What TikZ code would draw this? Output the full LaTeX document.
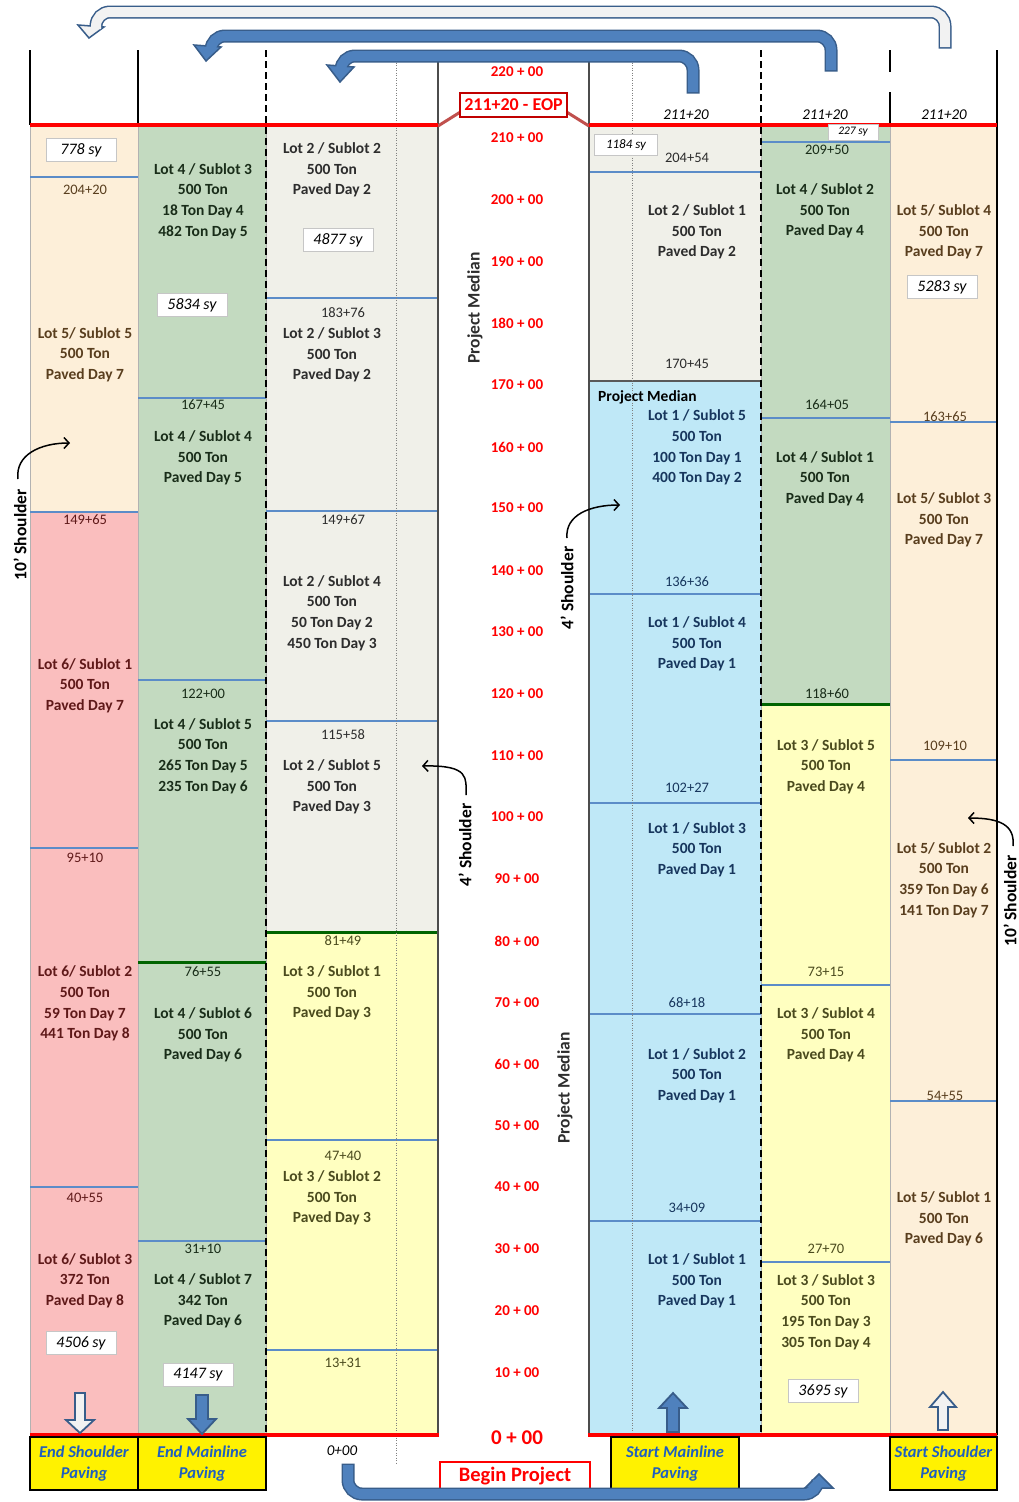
\documentclass[tikz,border=0pt]{standalone}
\usepackage{fontspec}
\setmainfont{Carlito}
\usetikzlibrary{arrows.meta}
\definecolor{creamc}{RGB}{253,239,217}
\definecolor{pinkc}{RGB}{250,190,190}
\definecolor{greenc}{RGB}{195,218,192}
\definecolor{grayc}{RGB}{240,240,233}
\definecolor{yellowc}{RGB}{255,255,192}
\definecolor{bluec}{RGB}{191,232,247}
\definecolor{sepblue}{RGB}{91,140,200}
\definecolor{dkgreen}{RGB}{0,100,0}
\definecolor{arrowblue}{RGB}{79,129,189}
\definecolor{arrowedge}{RGB}{56,93,138}
\definecolor{lightarrow}{RGB}{242,242,242}
\definecolor{tCream}{RGB}{89,62,30}
\definecolor{tPink}{RGB}{95,25,25}
\definecolor{tGreen}{RGB}{25,45,25}
\definecolor{tGray}{RGB}{45,45,45}
\definecolor{tYellow}{RGB}{75,75,30}
\definecolor{tBlue}{RGB}{23,54,93}
\definecolor{btext}{RGB}{31,95,191}
\definecolor{eopred}{RGB}{192,0,0}
\definecolor{calloutc}{RGB}{192,80,77}
\definecolor{redc}{RGB}{255,0,0}
\begin{document}
\begin{tikzpicture}[x=1pt,y=-1pt,
 lot/.style={align=center, inner sep=0pt, font=\bfseries\fontsize{15.5}{20.7}\selectfont},
 sta/.style={inner sep=0pt, font=\fontsize{14.5}{16}\selectfont},
 rsta/.style={inner sep=0pt, text=redc, font=\bfseries\fontsize{15}{17}\selectfont},
 sybox/.style={draw=gray!45, fill=white, line width=0.8pt, inner sep=0pt, minimum width=70pt, minimum height=23pt, font=\itshape\fontsize{16}{18}\selectfont},
 toplab/.style={inner sep=0pt, font=\itshape\fontsize{15}{17}\selectfont},
 sepl/.style={sepblue, line width=1.5pt},
 dksep/.style={dkgreen, line width=3pt},
 colbox/.style={draw=gray!60, line width=1pt},
 ybox/.style={draw=black, line width=2pt, fill=yellow, align=center, inner sep=0pt, text=btext, minimum height=53pt, font=\bfseries\itshape\fontsize{16.5}{21}\selectfont},
 rot/.style={rotate=90, inner sep=0pt, font=\bfseries\fontsize{17.5}{20}\selectfont},
 curv/.style={line width=1.5pt, -{Straight Barb[length=5pt,width=11pt]}},
 fatedge/.style={arrowedge, line width=13pt, rounded corners=14pt},
]
\useasboundingbox (0,0) rectangle (1018,1502);
\fill[white] (0,0) rectangle (1018,1502);

% ---------- column fills ----------
\filldraw[colbox, fill=creamc] (30,125) rectangle (138,512);
\filldraw[colbox, fill=pinkc] (30,512) rectangle (138,1435);
\filldraw[colbox, fill=greenc] (138,125) rectangle (266,1435);
\filldraw[colbox, fill=grayc] (266,125) rectangle (438,932);
\filldraw[colbox, fill=yellowc] (266,932) rectangle (438,1435);
\filldraw[colbox, fill=grayc] (589,125) rectangle (761,381);
\filldraw[colbox, fill=bluec] (589,381) rectangle (761,1435);
\filldraw[colbox, fill=greenc] (761,125) rectangle (890,704);
\filldraw[colbox, fill=yellowc] (761,704) rectangle (890,1435);
\filldraw[colbox, fill=creamc] (890,125) rectangle (997,1435);

% ---------- separators ----------
\draw[sepl] (30,177) -- (138,177);
\draw[sepl] (30,512) -- (138,512);
\draw[sepl] (30,848) -- (138,848);
\draw[sepl] (30,1187) -- (138,1187);
\draw[sepl] (138,398) -- (266,398);
\draw[sepl] (138,680) -- (266,680);
\draw[dksep] (138,962) -- (266,962);
\draw[sepl] (138,1241) -- (266,1241);
\draw[sepl] (266,298) -- (438,298);
\draw[sepl] (266,511) -- (438,511);
\draw[sepl] (266,721) -- (438,721);
\draw[dksep] (266,932) -- (438,932);
\draw[sepl] (266,1140) -- (438,1140);
\draw[sepl] (266,1350) -- (438,1350);
\draw[sepl] (589,172) -- (761,172);
\draw[gray!70!black, line width=2.5pt] (589,381) -- (761,381);
\draw[sepl] (589,594) -- (761,594);
\draw[sepl] (589,803) -- (761,803);
\draw[sepl] (589,1014) -- (761,1014);
\draw[sepl] (589,1221) -- (761,1221);
\draw[sepl] (761,142) -- (890,142);
\draw[sepl] (761,418) -- (890,418);
\draw[dksep] (761,704) -- (890,704);
\draw[sepl] (761,985) -- (890,985);
\draw[sepl] (761,1262) -- (890,1262);
\draw[sepl] (890,422) -- (997,422);
\draw[sepl] (890,760) -- (997,760);
\draw[sepl] (890,1101) -- (997,1101);

% ---------- vertical lines ----------
\draw[black, line width=1.5pt] (30,50) -- (30,125);
\draw[black, line width=1.5pt] (138,50) -- (138,125);
\draw[black, line width=1.5pt, dash pattern=on 7pt off 4pt] (266,50) -- (266,1435);
\draw[gray, line width=0.8pt, dash pattern=on 1pt off 1.5pt] (396,50) -- (396,1465);
\draw[gray!60!black, line width=2pt] (438,50) -- (438,1436);
\draw[gray!60!black, line width=2pt] (589,50) -- (589,1436);
\draw[gray, line width=0.8pt, dash pattern=on 1pt off 1.5pt] (632,50) -- (632,1435);
\draw[black, line width=1.5pt, dash pattern=on 7pt off 4pt] (761,50) -- (761,1435);
\draw[black, line width=1.5pt] (890,50) -- (890,72);
\draw[black, line width=1.5pt] (890,92) -- (890,125);
\draw[black, line width=1.5pt] (997,50) -- (997,1435);

% ---------- red lines ----------
\draw[calloutc, line width=3pt] (438,126) -- (462,111);
\draw[calloutc, line width=3pt] (565,111) -- (589,126);
\draw[redc, line width=4pt] (30,125) -- (438,125);
\draw[redc, line width=4pt] (589,125) -- (997,125);
\draw[redc, line width=3.5pt] (30,1435) -- (439,1435);
\draw[redc, line width=3.5pt] (588,1435) -- (997,1435);
\draw[dkgreen, line width=3pt] (145,1438) -- (266,1438);

\node[draw=eopred, line width=2.5pt, fill=white, text=redc, inner sep=0pt, minimum width=107pt, minimum height=24pt, font=\bfseries\fontsize{18}{20}\selectfont] (eop) at (513.5,105) {211+20 - EOP};
\node[draw=redc, line width=2.5pt, text=redc, inner sep=0pt, minimum width=150pt, minimum height=28pt, font=\bfseries\fontsize{20.5}{22}\selectfont] (begin) at (515,1476) {Begin Project};

% ---------- median stations ----------
\node[rsta] (s220) at (517,72) {220 + 00};
\node[rsta] (s210) at (517,138) {210 + 00};
\node[rsta] (s200) at (517,200) {200 + 00};
\node[rsta] (s190) at (517,262) {190 + 00};
\node[rsta] (s180) at (517,323) {180 + 00};
\node[rsta] (s170) at (517,385) {170 + 00};
\node[rsta] (s160) at (517,447) {160 + 00};
\node[rsta] (s150) at (517,508) {150 + 00};
\node[rsta] (s140) at (517,571) {140 + 00};
\node[rsta] (s130) at (517,632) {130 + 00};
\node[rsta] (s120) at (517,694) {120 + 00};
\node[rsta] (s110) at (517,756) {110 + 00};
\node[rsta] (s100) at (517,817) {100 + 00};
\node[rsta] (s90) at (517,879) {90 + 00};
\node[rsta] (s80) at (517,941) {80 + 00};
\node[rsta] (s70) at (517,1003) {70 + 00};
\node[rsta] (s60) at (517,1064) {60 + 00};
\node[rsta] (s50) at (517,1126) {50 + 00};
\node[rsta] (s40) at (517,1187) {40 + 00};
\node[rsta] (s30) at (517,1249) {30 + 00};
\node[rsta] (s20) at (517,1311) {20 + 00};
\node[rsta] (s10) at (517,1373) {10 + 00};
\node[rsta, font=\bfseries\fontsize{21}{24}\selectfont] (s0) at (517,1438) {0 + 00};

\node[rot, text=tGray] (pm1) at (475,308) {Project Median};
\node[rot, text=tGray] (pm2) at (565,1088) {Project Median};
\node[rot, text=black] (sh4a) at (465,845) {4' Shoulder};
\node[rot, text=black] (sh4b) at (567,588) {4' Shoulder};
\node[rot, text=black] (sh10a) at (20,535) {10' Shoulder};
\node[rot, text=black] (sh10b) at (1010,901) {10' Shoulder};

\coordinate (f10a) at (18,479);
\coordinate (t10a) at (70,443);
\coordinate (f4a) at (466,795);
\coordinate (t4a) at (422,766);
\coordinate (f4b) at (567,538);
\coordinate (t4b) at (620,505);
\coordinate (f10b) at (1013,846);
\coordinate (t10b) at (968,818);
\draw[curv] (f10a) .. controls (15,455) and (40,443) .. (t10a);
\draw[curv] (f4a) .. controls (466,778) and (470,765) .. (t4a);
\draw[curv] (f4b) .. controls (565,515) and (590,505) .. (t4b);
\draw[curv] (f10b) .. controls (1015,825) and (1000,818) .. (t10b);

% ---------- top labels ----------
\node[toplab] (a1) at (686,115) {211+20};
\node[toplab] (a2) at (825,115) {211+20};
\node[toplab] (a3) at (944,115) {211+20};
\node[toplab] (z0) at (342,1451) {0+00};

% ---------- column 1 ----------
\node[sybox] (sy1) at (81,150) {778 sy};
\node[sta, text=tCream] (c1a) at (85,190) {204+20};
\node[lot, text=tCream] (c1b) at (85,354.5) {Lot 5/ Sublot 5\\500 Ton\\Paved Day 7};
\node[sta, text=tPink] (c1c) at (85,520) {149+65};
\node[lot, text=tPink] (c1d) at (85,685.5) {Lot 6/ Sublot 1\\500 Ton\\Paved Day 7};
\node[sta, text=tPink] (c1e) at (85,858) {95+10};
\node[lot, text=tPink] (c1f) at (85,1003.5) {Lot 6/ Sublot 2\\500 Ton\\59 Ton Day 7\\441 Ton Day 8};
\node[sta, text=tPink] (c1g) at (85,1198) {40+55};
\node[lot, text=tPink] (c1h) at (85,1280.5) {Lot 6/ Sublot 3\\372 Ton\\Paved Day 8};
\node[sybox] (sy2) at (81,1343) {4506 sy};

% ---------- column 2 ----------
\node[lot, text=tGreen] (c2a) at (203,201) {Lot 4 / Sublot 3\\500 Ton\\18 Ton Day 4\\482 Ton Day 5};
\node[sybox] (sy3) at (192,305) {5834 sy};
\node[sta, text=tGreen] (c2b) at (203,405) {167+45};
\node[lot, text=tGreen] (c2c) at (203,458) {Lot 4 / Sublot 4\\500 Ton\\Paved Day 5};
\node[sta, text=tGreen] (c2d) at (203,694) {122+00};
\node[lot, text=tGreen] (c2e) at (203,756) {Lot 4 / Sublot 5\\500 Ton\\265 Ton Day 5\\235 Ton Day 6};
\node[sta, text=tGreen] (c2f) at (203,972) {76+55};
\node[lot, text=tGreen] (c2g) at (203,1035) {Lot 4 / Sublot 6\\500 Ton\\Paved Day 6};
\node[sta, text=tGreen] (c2h) at (203,1249) {31+10};
\node[lot, text=tGreen] (c2i) at (203,1301) {Lot 4 / Sublot 7\\342 Ton\\Paved Day 6};
\node[sybox] (sy4) at (198,1375) {4147 sy};

% ---------- column 3 ----------
\node[lot, text=tGray] (c3a) at (332,170) {Lot 2 / Sublot 2\\500 Ton\\Paved Day 2};
\node[sybox] (sy5) at (338,240) {4877 sy};
\node[sta, text=tGray] (c3b) at (343,313) {183+76};
\node[lot, text=tGray] (c3c) at (332,355) {Lot 2 / Sublot 3\\500 Ton\\Paved Day 2};
\node[sta, text=tGray] (c3d) at (343,520) {149+67};
\node[lot, text=tGray] (c3e) at (332,613) {Lot 2 / Sublot 4\\500 Ton\\50 Ton Day 2\\450 Ton Day 3};
\node[sta, text=tGray] (c3f) at (343,735) {115+58};
\node[lot, text=tGray] (c3g) at (332,787) {Lot 2 / Sublot 5\\500 Ton\\Paved Day 3};
\node[sta, text=tYellow] (c3h) at (343,941) {81+49};
\node[lot, text=tYellow] (c3i) at (332,993) {Lot 3 / Sublot 1\\500 Ton\\Paved Day 3};
\node[sta, text=tYellow] (c3j) at (343,1156) {47+40};
\node[lot, text=tYellow] (c3k) at (332,1198) {Lot 3 / Sublot 2\\500 Ton\\Paved Day 3};
\node[sta, text=tYellow] (c3l) at (343,1363) {13+31};

% ---------- column 5 ----------
\node[sybox, minimum width=63pt, minimum height=21pt, font=\itshape\fontsize{13}{15}\selectfont] (sy6) at (626,145) {1184 sy};
\node[sta, text=tGray] (c5a) at (687,158) {204+54};
\node[lot, text=tGray] (c5b) at (697,232) {Lot 2 / Sublot 1\\500 Ton\\Paved Day 2};
\node[sta, text=tGray] (c5c) at (687,364) {170+45};
\node[lot, anchor=west, text=black] (c5pm) at (598,397) {Project Median};
\node[lot, text=tBlue] (c5d) at (697,447.5) {Lot 1 / Sublot 5\\500 Ton\\100 Ton Day 1\\400 Ton Day 2};
\node[sta, text=tBlue] (c5e) at (687,582) {136+36};
\node[lot, text=tBlue] (c5f) at (697,644) {Lot 1 / Sublot 4\\500 Ton\\Paved Day 1};
\node[sta, text=tBlue] (c5g) at (687,788) {102+27};
\node[lot, text=tBlue] (c5h) at (697,849.5) {Lot 1 / Sublot 3\\500 Ton\\Paved Day 1};
\node[sta, text=tBlue] (c5i) at (687,1003) {68+18};
\node[lot, text=tBlue] (c5j) at (697,1075.5) {Lot 1 / Sublot 2\\500 Ton\\Paved Day 1};
\node[sta, text=tBlue] (c5k) at (687,1208) {34+09};
\node[lot, text=tBlue] (c5l) at (697,1281) {Lot 1 / Sublot 1\\500 Ton\\Paved Day 1};

% ---------- column 6 ----------
\node[sybox, minimum width=50pt, minimum height=16pt, font=\itshape\fontsize{11.5}{13}\selectfont] (sy7) at (853,132) {227 sy};
\node[sta, text=tGreen] (c6a) at (827,150) {209+50};
\node[lot, text=tGreen] (c6b) at (825,211) {Lot 4 / Sublot 2\\500 Ton\\Paved Day 4};
\node[sta, text=tGreen] (c6c) at (827,405) {164+05};
\node[lot, text=tGreen] (c6d) at (825,478.5) {Lot 4 / Sublot 1\\500 Ton\\Paved Day 4};
\node[sta, text=tGreen] (c6e) at (827,694) {118+60};
\node[lot, text=tYellow] (c6f) at (826,766.5) {Lot 3 / Sublot 5\\500 Ton\\Paved Day 4};
\node[sta, text=tYellow] (c6g) at (826,972) {73+15};
\node[lot, text=tYellow] (c6h) at (826,1035) {Lot 3 / Sublot 4\\500 Ton\\Paved Day 4};
\node[sta, text=tYellow] (c6i) at (826,1249) {27+70};
\node[lot, text=tYellow] (c6j) at (826,1312) {Lot 3 / Sublot 3\\500 Ton\\195 Ton Day 3\\305 Ton Day 4};
\node[sybox] (sy8) at (823,1391) {3695 sy};

% ---------- column 7 ----------
\node[lot, text=tCream] (c7a) at (944,232) {Lot 5/ Sublot 4\\500 Ton\\Paved Day 7};
\node[sybox] (sy9) at (942,287) {5283 sy};
\node[sta, text=tCream] (c7b) at (945,417) {163+65};
\node[lot, text=tCream] (c7c) at (944,520) {Lot 5/ Sublot 3\\500 Ton\\Paved Day 7};
\node[sta, text=tCream] (c7d) at (945,746) {109+10};
\node[lot, text=tCream] (c7e) at (944,880) {Lot 5/ Sublot 2\\500 Ton\\359 Ton Day 6\\141 Ton Day 7};
\node[sta, text=tCream] (c7f) at (945,1096) {54+55};
\node[lot, text=tCream] (c7g) at (944,1219) {Lot 5/ Sublot 1\\500 Ton\\Paved Day 6};

% ---------- bottom yellow boxes ----------
\node[ybox, minimum width=108pt] (b1) at (84,1463.5) {End Shoulder\\Paving};
\node[ybox, minimum width=128pt] (b2) at (202,1463.5) {End Mainline\\Paving};
\node[ybox, minimum width=128pt] (b3) at (675,1463.5) {Start Mainline\\Paving};
\node[ybox, minimum width=107pt] (b4) at (943.5,1463.5) {Start Shoulder\\Paving};

% ---------- small block arrows ----------
\filldraw[fill=lightarrow, draw=arrowedge, line width=1.8pt, line join=miter]
  (75,1393) -- (85,1393) -- (85,1420) -- (94,1420) -- (80,1433) -- (66,1420) -- (75,1420) -- cycle;
\filldraw[fill=arrowblue, draw=arrowedge, line width=1.8pt, line join=miter]
  (196,1395) -- (208,1395) -- (208,1419) -- (216,1419) -- (202,1434) -- (188,1419) -- (196,1419) -- cycle;
\filldraw[fill=arrowblue, draw=arrowedge, line width=1.8pt, line join=miter]
  (667,1432) -- (679,1432) -- (679,1408) -- (687,1408) -- (673,1393) -- (659,1408) -- (667,1408) -- cycle;
\filldraw[fill=lightarrow, draw=arrowedge, line width=1.8pt, line join=miter]
  (938,1430) -- (948,1430) -- (948,1407) -- (956,1407) -- (943,1392) -- (930,1407) -- (938,1407) -- cycle;

% ---------- big U-turn arrows ----------
\draw[fatedge] (945,48.5) -- (945,12) -- (96,12) -- (96,27);
\filldraw[fill=lightarrow, draw=arrowedge, line width=1.5pt, line join=miter] (78,25) -- (89,38) -- (104,27) -- cycle;
\draw[lightarrow, line width=10pt, rounded corners=14pt] (945,47) -- (945,12) -- (96,12) -- (96,29);
\draw[fatedge] (831,71.5) -- (831,36) -- (211,36) -- (211,47);
\filldraw[fill=arrowblue, draw=arrowedge, line width=1.5pt, line join=miter] (194,45) -- (206,61) -- (221,47) -- cycle;
\draw[arrowblue, line width=10pt, rounded corners=14pt] (831,70) -- (831,36) -- (211,36) -- (211,49);
\draw[fatedge] (693,93.5) -- (693,56) -- (341,56) -- (341,67);
\filldraw[fill=arrowblue, draw=arrowedge, line width=1.5pt, line join=miter] (327,65) -- (340,82) -- (354,67) -- cycle;
\draw[arrowblue, line width=10pt, rounded corners=14pt] (693,92) -- (693,56) -- (341,56) -- (341,69);
\draw[fatedge] (348,1463.5) -- (348,1494) -- (818,1494) -- (818,1488);
\filldraw[fill=arrowblue, draw=arrowedge, line width=1.5pt, line join=miter] (805,1488) -- (819,1474) -- (833,1488) -- cycle;
\draw[arrowblue, line width=10pt, rounded corners=14pt] (348,1465) -- (348,1494) -- (818,1494) -- (818,1486);
\end{tikzpicture}
\end{document}
